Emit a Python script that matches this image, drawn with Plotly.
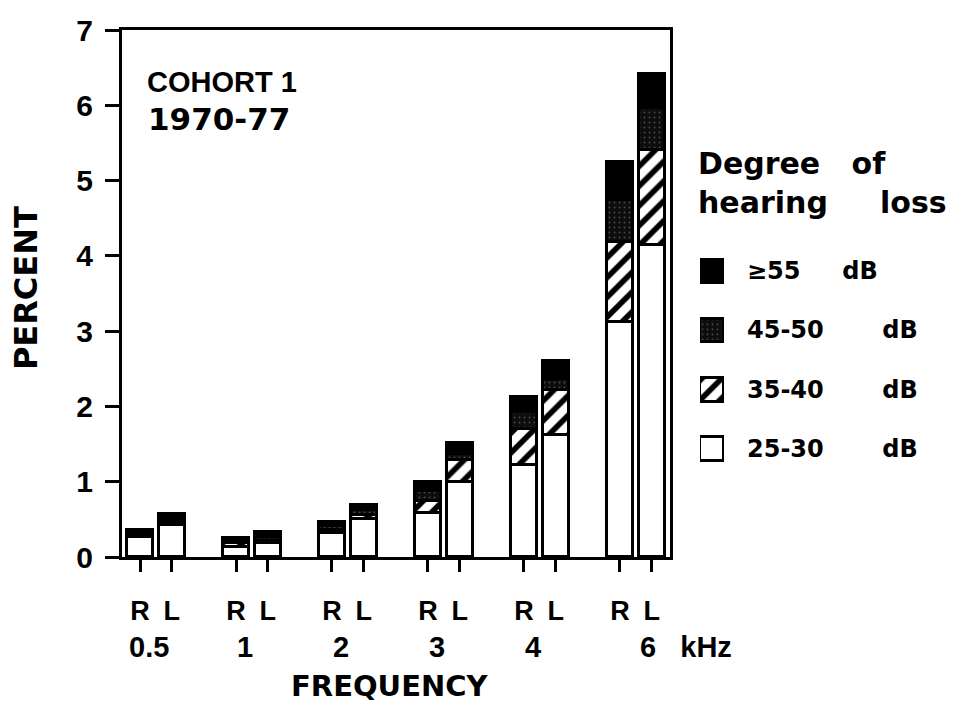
import plotly.graph_objects as go

# ---------------- data ----------------
frequencies = ["0.5", "1", "2", "3", "4", "6"]
freq_labels = ["0.5", "1", "2", "3", "4", "6 kHz"]
ears = ["R", "L"]
series_names = ["25-30 dB", "35-40 dB", "45-50 dB", "≥55 dB"]

loss_25_30_R = [0.27, 0.13, 0.32, 0.58, 1.22, 3.12]
loss_25_30_L = [0.42, 0.19, 0.50, 1.00, 1.62, 4.14]
loss_35_40_R = [0.02, 0.05, 0.04, 0.16, 0.48, 1.07]
loss_35_40_L = [0.05, 0.02, 0.06, 0.29, 0.60, 1.26]
loss_45_50_R = [0.03, 0.03, 0.05, 0.14, 0.22, 0.55]
loss_45_50_L = [0.04, 0.05, 0.06, 0.08, 0.14, 0.56]
loss_55_R = [0.04, 0.04, 0.05, 0.12, 0.21, 0.51]
loss_55_L = [0.06, 0.07, 0.07, 0.15, 0.24, 0.45]

y_ticks = [0, 1, 2, 3, 4, 5, 6, 7]

# ---------------- styling ----------------
BOLD = "Liberation Sans"
WIDE = "DejaVu Sans"
EAR_OFFSET = 0.165
BAR_W = 0.27
NB = "\u00a0"

styles = [
    dict(color="white", pattern=dict(shape="")),
    dict(color="white", pattern=dict(shape="/", fillmode="replace", bgcolor="white",
                                     fgcolor="black", size=14, solidity=0.4)),
    dict(color="#0d0d0d", pattern=dict(shape=".", fillmode="replace", bgcolor="#0d0d0d",
                                       fgcolor="#4a4a4a", size=5, solidity=0.1)),
    dict(color="black", pattern=dict(shape="")),
]

series_R = [loss_25_30_R, loss_35_40_R, loss_45_50_R, loss_55_R]
series_L = [loss_25_30_L, loss_35_40_L, loss_45_50_L, loss_55_L]

x_pos, x_text = [], []
for i, _ in enumerate(frequencies):
    x_pos += [i - EAR_OFFSET, i + EAR_OFFSET]
    x_text += ears

fig = go.Figure()
for k, (name, r_vals, l_vals, st) in enumerate(zip(series_names, series_R, series_L, styles)):
    vals = []
    for r, l in zip(r_vals, l_vals):
        vals += [r, l]
    fig.add_trace(go.Bar(
        x=x_pos, y=vals, name=name, width=BAR_W, showlegend=False,
        marker=dict(color=st["color"], pattern=st["pattern"],
                    line=dict(color="black", width=3)),
    ))
    # legend swatch drawn on a small helper axis
    fig.add_trace(go.Bar(
        x=[1], y=[k], orientation="h", width=0.4, base=0, showlegend=False,
        xaxis="x2", yaxis="y2", hoverinfo="skip",
        marker=dict(color=st["color"], pattern=st["pattern"],
                    line=dict(color="black", width=3)),
    ))

# page geometry (the page body adds an 8px offset)
OFF = 8
W, H = 963 - OFF, 706 - OFF
PLOT_L, PLOT_R, PLOT_T, PLOT_B = 122, 670, 22, 557
ML = PLOT_L - OFF
MT = PLOT_T - OFF
MB = H - (PLOT_B - OFF)
MR = 5
PW = W - ML - MR
PH = PLOT_B - PLOT_T


def px(xp):
    return (xp - PLOT_L) / PW


def py(yp):
    return (PLOT_B - yp) / PH


fig.update_layout(
    width=W, height=H,
    margin=dict(l=ML, r=MR, t=MT, b=MB, pad=0),
    plot_bgcolor="white", paper_bgcolor="white",
    barmode="stack", bargap=0,
    font=dict(family=BOLD, color="black", size=24, weight="bold"),
    xaxis=dict(
        domain=[0, px(PLOT_R)], range=[-0.3525, 5.356],
        tickmode="array", tickvals=x_pos, ticktext=x_text,
        ticks="outside", ticklen=12, tickwidth=3, tickcolor="black",
        tickfont=dict(family=BOLD, size=27, weight="bold"),
        ticklabelstandoff=16,
        showline=True, linewidth=3, linecolor="black", mirror=True,
        showgrid=False, zeroline=False, fixedrange=True,
    ),
    yaxis=dict(
        range=[0, 7], tickmode="array", tickvals=y_ticks,
        ticks="outside", ticklen=14, tickwidth=3, tickcolor="black",
        tickfont=dict(family=BOLD, size=30, weight="bold"),
        ticklabelstandoff=6, ticklabeloverflow="allow",
        showline=True, linewidth=3, linecolor="black", mirror=True,
        showgrid=False, zeroline=False,
    ),
    xaxis2=dict(domain=[px(700), px(724)], range=[0, 1], anchor="y2",
                visible=False, fixedrange=True),
    yaxis2=dict(domain=[py(477), py(237)], range=[-0.5, 3.5], anchor="x2",
                visible=False, fixedrange=True),
)

ann = []
# cohort label
ann.append(dict(text="COHORT 1", x=px(145), y=py(75), xref="paper", yref="paper",
                xanchor="left", yanchor="middle", showarrow=False,
                font=dict(family=BOLD, size=29, weight="bold")))
ann.append(dict(text="1970-77", x=px(146), y=py(112), xref="paper", yref="paper",
                xanchor="left", yanchor="middle", showarrow=False,
                font=dict(family=WIDE, size=31, weight="bold")))
# axis titles
ann.append(dict(text="PERCENT", x=px(26), y=py(284), xref="paper", yref="paper",
                textangle=-90, xanchor="center", yanchor="middle", showarrow=False,
                font=dict(family=WIDE, size=32, weight="bold")))
ann.append(dict(text="FREQUENCY", x=px(390), y=py(688), xref="paper", yref="paper",
                xanchor="center", yanchor="middle", showarrow=False,
                font=dict(family=WIDE, size=29, weight="bold")))
# frequency labels
for i, lab in enumerate(freq_labels):
    if lab.startswith("6"):
        ann.append(dict(text=lab.replace(" ", NB * 3), x=i, y=py(648), xref="x", yref="paper",
                        xanchor="left", xshift=2, yanchor="middle", showarrow=False,
                        font=dict(family=BOLD, size=29, weight="bold")))
    else:
        ann.append(dict(text=lab, x=i, y=py(648), xref="x", yref="paper",
                        xanchor="center", xshift=-7, yanchor="middle", showarrow=False,
                        font=dict(family=BOLD, size=29, weight="bold")))
# legend title
ann.append(dict(text="Degree" + NB * 3 + "of<br>hearing" + NB * 5 + "loss",
                x=px(696), y=py(177), xref="paper", yref="paper",
                xanchor="left", yanchor="middle", align="left", showarrow=False,
                font=dict(family=WIDE, size=30, weight="bold")))
# legend item labels
gaps = {"≥55 dB": 5, "45-50 dB": 7, "35-40 dB": 7, "25-30 dB": 7}
for k, name in enumerate(series_names):
    val, unit = name.split(" ")
    ann.append(dict(text=val + NB * gaps[name] + unit, x=px(745), y=k,
                    xref="paper", yref="y2", xanchor="left", yanchor="middle",
                    showarrow=False, font=dict(family=WIDE, size=24, weight="bold")))

fig.update_layout(annotations=ann)

fig.write_html("out.html")
